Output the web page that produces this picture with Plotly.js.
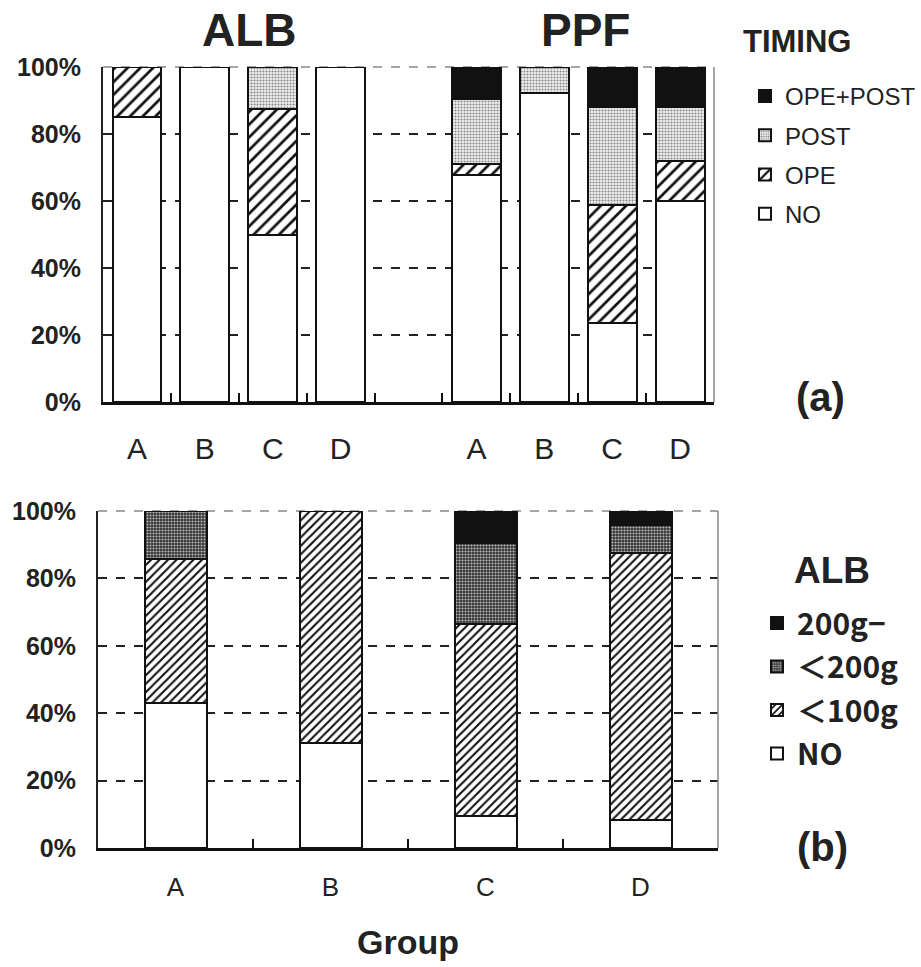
<!DOCTYPE html>
<html>
<head>
<meta charset="utf-8">
<script src="https://cdn.plot.ly/plotly-3.0.1.min.js"></script>
<style>html,body{margin:0;padding:0;background:#fff;}#chart{width:921px;height:967px;}</style>
</head>
<body>
<div id="chart"></div>
<script>
// ---------- Panel (a): timing of ALB / PPF use ----------
const topCats   = ['ALB-A','ALB-B','ALB-C','ALB-D','gap','PPF-A','PPF-B','PPF-C','PPF-D'];
const topLabels = ['A','B','C','D','','A','B','C','D'];
const timingNames = ['NO','OPE','POST','OPE+POST'];
const timingNO      = [85.0, 100, 50.0, 100, null, 67.7, 92.3, 23.5, 60.0];
const timingOPE     = [15.0,   0, 37.5,   0, null,  3.2,  0.0, 35.3, 12.0];
const timingPOST    = [ 0.0,   0, 12.5,   0, null, 19.4,  7.7, 29.4, 16.0];
const timingOPEPOST = [ 0.0,   0,  0.0,   0, null,  9.7,  0.0, 11.8, 12.0];

// ---------- Panel (b): ALB amount by group ----------
const groups = ['A','B','C','D'];
const albNames = ['NO','＜100g','＜200g','200g−'];
const albNO    = [42.9, 31.2,  9.5,  8.3];
const alb100   = [42.9, 68.8, 57.1, 79.2];
const alb200   = [14.2,  0.0, 23.8,  8.3];
const alb200up = [ 0.0,  0.0,  9.5,  4.2];

const W = 921, H = 967;
const px = v => v / W;           // x pixel -> paper
const py = v => (H - v) / H;     // y pixel -> paper

const FONT = 'Liberation Sans, Arial, Helvetica, sans-serif';
const line = {color: '#111', width: 2};

const stylesTop = [
  {color: 'white'},
  {color: 'white', pattern: {shape: '/', bgcolor: 'white', fgcolor: '#111', size: 9, solidity: 0.3}},
  {color: '#e6e6e6', pattern: {shape: '.', bgcolor: '#f2f2f2', fgcolor: '#888', size: 3, solidity: 0.4}},
  {color: '#111'}
];
const stylesBot = [
  {color: 'white'},
  {color: 'white', pattern: {shape: '/', bgcolor: 'white', fgcolor: '#111', size: 6, solidity: 0.35}},
  {color: '#555', pattern: {shape: '.', bgcolor: '#333', fgcolor: '#bbb', size: 3, solidity: 0.4}},
  {color: '#111'}
];

const topSeries = [timingNO, timingOPE, timingPOST, timingOPEPOST];
const botSeries = [albNO, alb100, alb200, alb200up];

const traces = [];
topSeries.forEach((vals, i) => {
  traces.push({
    type: 'bar', x: topCats, y: vals, name: timingNames[i],
    marker: Object.assign({line: line}, stylesTop[i]), width: 0.72, xaxis: 'x', yaxis: 'y',
    legend: 'legend', legendgroup: 't' + i, legendrank: 10 - i, hoverinfo: 'y+name'
  });
});
botSeries.forEach((vals, i) => {
  traces.push({
    type: 'bar', x: groups, y: vals, name: albNames[i],
    marker: Object.assign({line: line}, stylesBot[i]), width: 0.4,
    xaxis: 'x2', yaxis: 'y2',
    legend: 'legend2', legendgroup: 'b' + i, legendrank: 10 - i, hoverinfo: 'y+name'
  });
});

const yCommon = {
  range: [0, 100], dtick: 20, ticksuffix: '%', fixedrange: true,
  showgrid: true, gridcolor: '#222', gridwidth: 1.5, griddash: 'dash',
  showline: true, linecolor: '#222', linewidth: 2,
  ticks: '', zeroline: false, automargin: false,
  ticklabelstandoff: 15,
  tickfont: {family: FONT, size: 25, color: '#222', weight: 'bold'}
};
const xCommon = {
  type: 'category', showline: true, linecolor: '#111', linewidth: 3,
  ticks: 'inside', ticklen: 9, tickwidth: 2, tickcolor: '#111',
  tickson: 'boundaries', showgrid: false, automargin: false, fixedrange: true
};

const layout = {
  width: W, height: H,
  margin: {l: 0, r: 0, t: 0, b: 0},
  paper_bgcolor: 'white', plot_bgcolor: 'white',
  barmode: 'stack', showlegend: true,
  xaxis: Object.assign({}, xCommon, {
    domain: [px(103), px(714)], anchor: 'y',
    categoryorder: 'array', categoryarray: topCats,
    tickmode: 'array', tickvals: topCats, ticktext: topLabels,
    ticklabelstandoff: 18,
    tickfont: {family: FONT, size: 30, color: '#222'}
  }),
  yaxis: Object.assign({}, yCommon, {domain: [py(402), py(67)], anchor: 'x'}),
  xaxis2: Object.assign({}, xCommon, {
    domain: [px(98), px(718)], anchor: 'y2',
    categoryorder: 'array', categoryarray: groups,
    ticklabelstandoff: 14,
    tickfont: {family: FONT, size: 26, color: '#222'},
    title: {text: 'Group', standoff: 29, font: {family: FONT, size: 34, color: '#222', weight: 'bold'}}
  }),
  yaxis2: Object.assign({}, yCommon, {domain: [py(848), py(511)], anchor: 'x2'}),
  legend: {
    x: px(745), y: py(74), xanchor: 'left', yanchor: 'top',
    traceorder: 'grouped', tracegroupgap: 5,
    font: {family: FONT, size: 24, color: '#222'},
    bgcolor: 'rgba(0,0,0,0)', itemclick: false, itemdoubleclick: false
  },
  legend2: {
    x: px(757), y: py(597), xanchor: 'left', yanchor: 'top',
    traceorder: 'grouped', tracegroupgap: 1.5,
    font: {family: 'Noto Sans CJK JP, ' + FONT, size: 30, color: '#222', weight: 'bold'},
    bgcolor: 'rgba(0,0,0,0)', itemclick: false, itemdoubleclick: false
  },
  shapes: [
    {type: 'line', xref: 'x domain', yref: 'y domain', x0: 1, x1: 1, y0: 0, y1: 1, line: {color: '#888', width: 1.5}},
    {type: 'line', xref: 'x2 domain', yref: 'y2 domain', x0: 1, x1: 1, y0: 0, y1: 1, line: {color: '#888', width: 1.5}},
    {type: 'line', xref: 'x domain', yref: 'y domain', x0: 0, x1: 1, y0: 1, y1: 1, layer: 'below', line: {color: '#888', width: 1.5, dash: 'dash'}},
    {type: 'line', xref: 'x2 domain', yref: 'y2 domain', x0: 0, x1: 1, y0: 1, y1: 1, layer: 'below', line: {color: '#888', width: 1.5, dash: 'dash'}}
  ],
  annotations: [
    {text: 'ALB', x: px(249), y: py(30), xref: 'paper', yref: 'paper', showarrow: false, xanchor: 'center', yanchor: 'middle',
     font: {family: FONT, size: 46, color: '#222', weight: 'bold'}},
    {text: 'PPF', x: px(585), y: py(30), xref: 'paper', yref: 'paper', showarrow: false, xanchor: 'center', yanchor: 'middle',
     font: {family: FONT, size: 46, color: '#222', weight: 'bold'}},
    {text: 'TIMING', x: px(797), y: py(42), xref: 'paper', yref: 'paper', showarrow: false, xanchor: 'center', yanchor: 'middle',
     font: {family: FONT, size: 31, color: '#222', weight: 'bold'}},
    {text: '(a)', x: px(820), y: py(397), xref: 'paper', yref: 'paper', showarrow: false, xanchor: 'center', yanchor: 'middle',
     font: {family: FONT, size: 40, color: '#222', weight: 'bold'}},
    {text: 'ALB', x: px(832), y: py(570), xref: 'paper', yref: 'paper', showarrow: false, xanchor: 'center', yanchor: 'middle',
     font: {family: FONT, size: 37, color: '#222', weight: 'bold'}},
    {text: '(b)', x: px(822), y: py(847), xref: 'paper', yref: 'paper', showarrow: false, xanchor: 'center', yanchor: 'middle',
     font: {family: FONT, size: 40, color: '#222', weight: 'bold'}}
  ]
};

Plotly.newPlot('chart', traces, layout, {displayModeBar: false});
</script>
</body>
</html>
